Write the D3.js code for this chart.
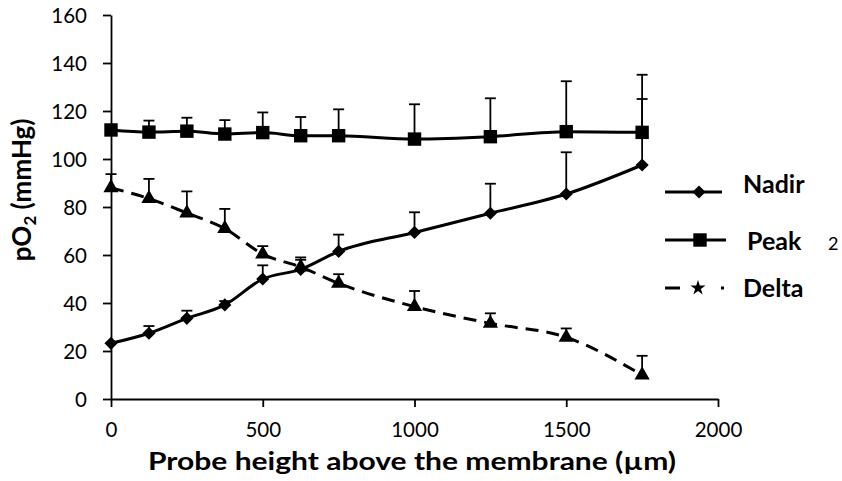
<!DOCTYPE html>
<html><head><meta charset="utf-8">
<script src="https://cdn.jsdelivr.net/npm/d3@7/dist/d3.min.js"></script>
<style>body{margin:0;background:#fff}svg{display:block}text{font-family:Lato,"Open Sans",sans-serif}</style>
</head><body><svg id="c" width="842" height="481"></svg>
<script>
const heights = [0,125,250,375,500,625,750,1000,1250,1500,1750];
const nadir = [23.2,27.4,33.6,39.2,50,54,61.5,69.4,77.4,85.4,97.5];
const nadirErr = [0,3,3.2,1.6,5.7,4,7,8.4,12.3,17.4,27.5];
const peak = [112.1,111.2,111.6,110.4,111,109.7,109.7,108.3,109.3,111.4,111.1];
const peakErr = [0,4.8,5.6,5.8,8.4,7.8,11,14.5,16,21,24];
const delta = [88,83.5,77.5,71,60.4,55,48.2,38.5,31.5,25.7,10];
const deltaErr = [5.7,8.2,9,8.2,3.3,4,3.8,6.5,4.2,3.7,8];
const xTicks = [0,500,1000,1500,2000];
const yTicks = [0,20,40,60,80,100,120,140,160];
const seriesNames = ["Nadir","Peak","Delta"];

const svg = d3.select("#c");
const x = d3.scaleLinear().domain([0,2000]).range([111,718]);
const y = d3.scaleLinear().domain([0,160]).range([399,15]);

const xa = svg.append("g").attr("transform","translate(0,399)")
  .call(d3.axisBottom(x).tickValues(xTicks).tickFormat(d3.format("d")).tickSize(8).tickSizeOuter(0).tickPadding(15));
const ya = svg.append("g").attr("transform","translate(111,0)")
  .call(d3.axisLeft(y).tickValues(yTicks).tickFormat(d3.format("d")).tickSize(8).tickSizeOuter(0).tickPadding(16));
[xa,ya].forEach(a=>{
  a.selectAll("path,line").attr("stroke","#000").attr("stroke-width",1.8);
  a.selectAll("text").attr("font-size",20.5).attr("fill","#000").style("font-family","Lato,'Open Sans',sans-serif");
});
ya.selectAll("text").attr("dy","0.36em");

function errBars(vals, errs){
  const g = svg.append("g").attr("stroke","#000").attr("stroke-width",1.8);
  heights.forEach((h,i)=>{
    if(!errs[i]) return;
    const cx = x(h), y0 = y(vals[i]), y1 = y(vals[i]+errs[i]);
    g.append("line").attr("x1",cx).attr("x2",cx).attr("y1",y0).attr("y2",y1);
    g.append("line").attr("x1",cx-5.5).attr("x2",cx+5.5).attr("y1",y1).attr("y2",y1);
  });
}
errBars(peak,peakErr);
errBars(nadir,nadirErr);
errBars(delta,deltaErr);

const line = d3.line().x((d,i)=>x(heights[i])).y(d=>y(d)).curve(d3.curveMonotoneX);
svg.append("path").datum(peak).attr("d",line).attr("fill","none").attr("stroke","#000").attr("stroke-width",3);
svg.append("path").datum(nadir).attr("d",line).attr("fill","none").attr("stroke","#000").attr("stroke-width",3);
svg.append("path").datum(delta).attr("d",line).attr("fill","none").attr("stroke","#000").attr("stroke-width",3).attr("stroke-dasharray","13,8");

const sq = d3.symbol().type(d3.symbolSquare).size(180);
const dm = d3.symbol().type(d3.symbolDiamond2).size(110);
const tr = d3.symbol().type(d3.symbolTriangle).size(100);
const st = d3.symbol().type(d3.symbolStar).size(70);
function markers(vals, sym){
  svg.append("g").selectAll("path").data(vals).join("path")
    .attr("d",sym).attr("fill","#000")
    .attr("transform",(d,i)=>`translate(${x(heights[i])},${y(d)})`);
}
markers(peak,sq);
markers(nadir,dm);
markers(delta,tr);

// legend
const lg = svg.append("g");
const ly = [192,240,288];
const tb = [193,250,297];
const tx = [743,747,743];
lg.append("line").attr("x1",665).attr("x2",722).attr("y1",ly[0]).attr("y2",ly[0]).attr("stroke","#000").attr("stroke-width",3);
lg.append("path").attr("d",dm).attr("fill","#000").attr("transform",`translate(699,${ly[0]})`);
lg.append("line").attr("x1",665).attr("x2",726).attr("y1",ly[1]).attr("y2",ly[1]).attr("stroke","#000").attr("stroke-width",3);
lg.append("path").attr("d",sq).attr("fill","#000").attr("transform",`translate(700,${ly[1]})`);
lg.append("line").attr("x1",665).attr("x2",680).attr("y1",ly[2]).attr("y2",ly[2]).attr("stroke","#000").attr("stroke-width",3);
lg.append("line").attr("x1",721).attr("x2",724).attr("y1",ly[2]).attr("y2",ly[2]).attr("stroke","#000").attr("stroke-width",3);
lg.append("path").attr("d",st).attr("fill","#000").attr("transform",`translate(698,${ly[2]})`);
seriesNames.forEach((n,i)=>{
  lg.append("text").attr("x",tx[i]).attr("y",tb[i])
    .attr("font-size",25).attr("font-weight","bold").text(n);
});
svg.append("text").attr("x",828).attr("y",250).attr("font-size",18).text("2");

// axis titles
svg.append("text").attr("x",412).attr("y",470).attr("text-anchor","middle")
  .attr("font-size",24).attr("font-weight","bold")
  .attr("textLength",528).attr("lengthAdjust","spacingAndGlyphs")
  .text("Probe height above the membrane (µm)");
const yl = svg.append("text").attr("transform","translate(31,190) rotate(-90)").attr("text-anchor","middle")
  .attr("font-size",26).attr("font-weight","bold");
yl.append("tspan").text("pO");
yl.append("tspan").attr("font-size",17).attr("dy",5).text("2");
yl.append("tspan").attr("dy",-5).text(" (mmHg)");
</script></body></html>
